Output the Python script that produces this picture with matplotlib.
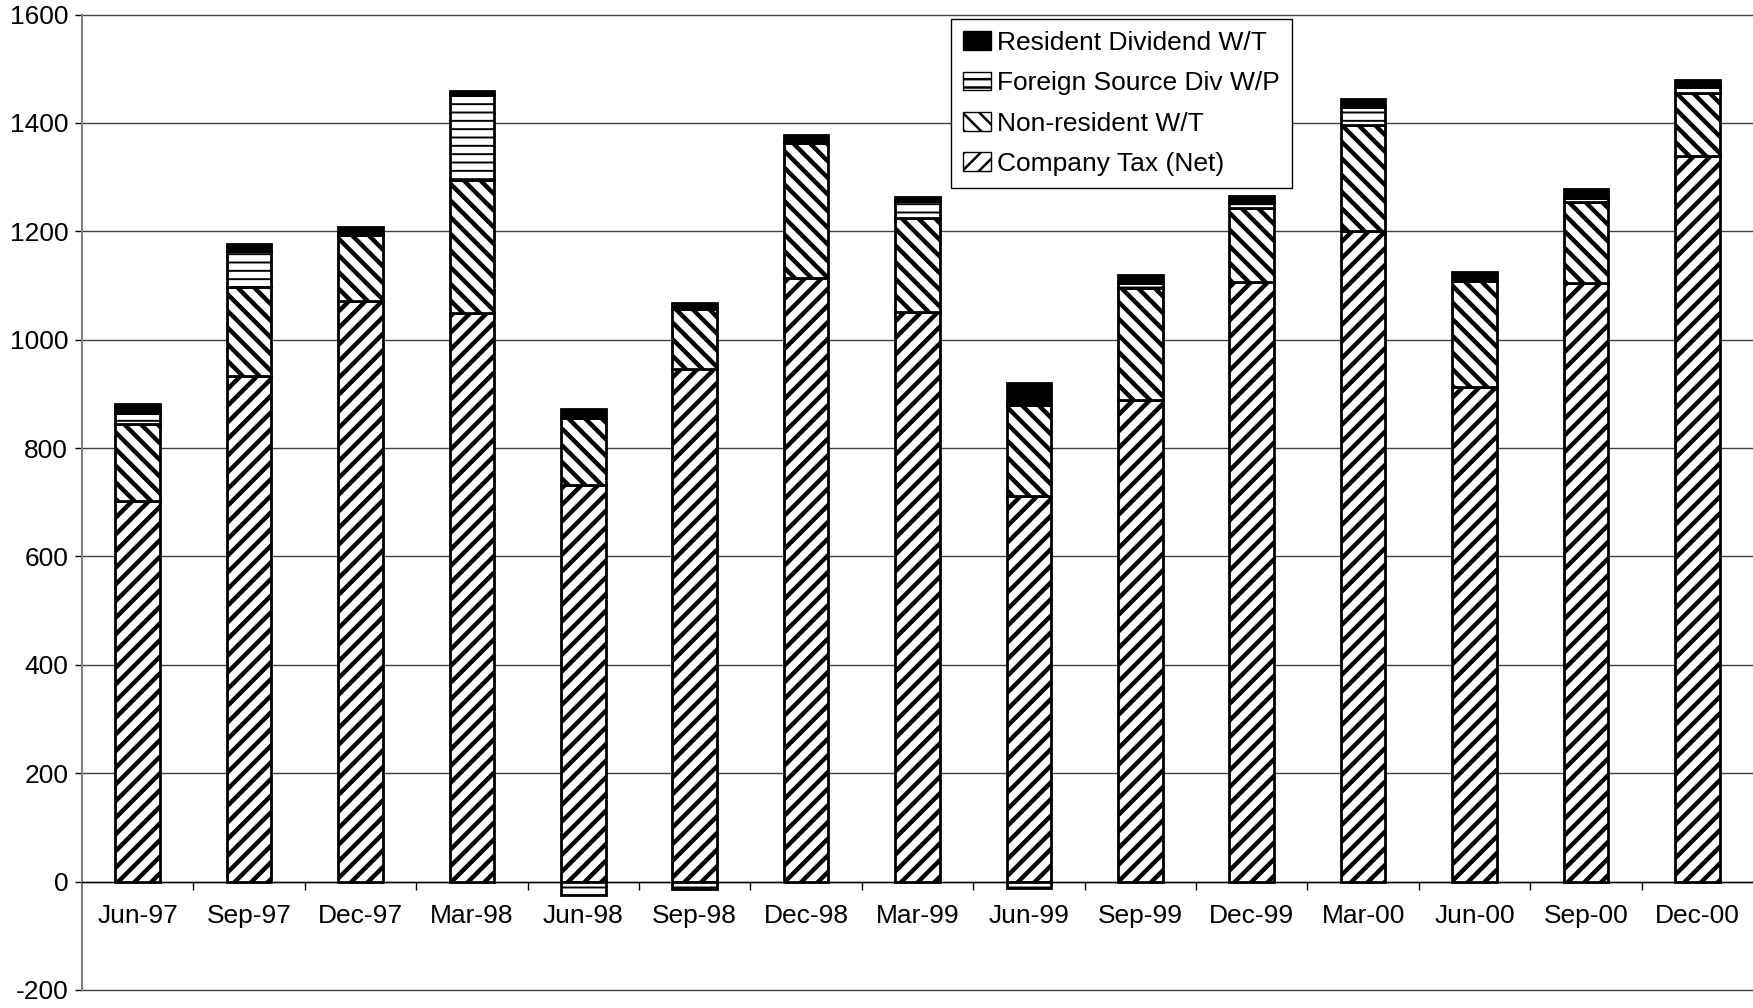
import numpy as np
import matplotlib
matplotlib.use('Agg')
import matplotlib.pyplot as plt
import matplotlib.patches as mpatches
from matplotlib.legend_handler import HandlerPatch

# quarterly values
quarters = ['Jun-97', 'Sep-97', 'Dec-97', 'Mar-98', 'Jun-98', 'Sep-98', 'Dec-98', 'Mar-99',
            'Jun-99', 'Sep-99', 'Dec-99', 'Mar-00', 'Jun-00', 'Sep-00', 'Dec-00']
company_tax = [702, 933, 1072, 1050, 731, 946, 1113, 1051, 711, 889, 1107, 1201, 912, 1104, 1338]
non_resident = [142, 164, 121, 244, 124, 111, 250, 174, 169, 207, 136, 195, 196, 150, 118]
foreign_div = [20, 66, 2, 158, -25, -13, 0, 30, -12, 8, 10, 34, 2, 8, 10]
resident_div = [18, 14, 13, 6, 17, 11, 14, 9, 40, 15, 12, 14, 14, 16, 13]

plt.rcParams['font.family'] = ['Liberation Sans', 'DejaVu Sans']
plt.rcParams['font.size'] = 19
plt.rcParams['axes.unicode_minus'] = False
plt.rcParams['hatch.linewidth'] = 3.2

fig = plt.figure(figsize=(17.53, 10.08), dpi=100)
ax = fig.add_axes([0.0468, 0.0179, 0.9532, 0.9677])

x = np.arange(len(quarters))
w = 0.40
edge = dict(edgecolor='black', linewidth=2.0)

comp = np.array(company_tax, dtype=float)
nonr = np.array(non_resident, dtype=float)
fore = np.array(foreign_div, dtype=float)
resi = np.array(resident_div, dtype=float)

# Excel style stacking: negatives hang below zero
bot_non = comp
bot_for = np.where(fore >= 0, comp + nonr, 0)
bot_res = comp + nonr + np.clip(fore, 0, None)

b_com = ax.bar(x, comp, w, color='white', hatch='//', zorder=3, **edge)
b_non = ax.bar(x, nonr, w, bottom=bot_non, color='white', hatch='\\\\', zorder=3, **edge)
with plt.rc_context({'hatch.linewidth': 1.4}):
    b_for = ax.bar(x, fore, w, bottom=bot_for, color='white', hatch='--', zorder=3, **edge)
for p in b_for:
    if hasattr(p, 'set_hatch_linewidth'):
        p.set_hatch_linewidth(1.4)
b_res = ax.bar(x, resi, w, bottom=bot_res, color='black', zorder=3, **edge)

ax.set_xlim(-0.5, len(quarters) - 0.5)
ax.set_ylim(-200, 1600)
ax.set_yticks(np.arange(-200, 1601, 200))
ax.yaxis.grid(True, color='#404040', linewidth=1.0, zorder=0)
for gl in ax.get_ygridlines():
    gl.set_clip_on(False)
ax.set_axisbelow(True)

ax.set_xticks(x)
ax.set_xticklabels(quarters)
ax.set_xticks(np.arange(0.5, len(quarters) - 1, 1.0), minor=True)
ax.tick_params(axis='x', which='major', length=0, pad=16)
ax.tick_params(axis='x', which='minor', length=6, width=1, direction='out')
ax.tick_params(axis='y', length=5, width=1, direction='out', pad=5)

ax.spines['top'].set_visible(False)
ax.spines['right'].set_visible(False)
ax.spines['bottom'].set_position(('data', 0))
ax.spines['bottom'].set_linewidth(1.0)
ax.spines['left'].set_color('#808080')
ax.spines['left'].set_linewidth(1.5)


def small_square(legend, orig_handle, xdescent, ydescent, width, height, fontsize):
    s = 0.6 * fontsize
    return mpatches.Rectangle((-xdescent + width - s, -ydescent + (height - s) / 2), s, s)


leg = ax.legend([b_res, b_for, b_non, b_com],
                ['Resident Dividend W/T', 'Foreign Source Div W/P', 'Non-resident W/T', 'Company Tax (Net)'],
                loc='upper left', bbox_to_anchor=(951 / 1753, 1 - 19 / 1008),
                bbox_transform=fig.transFigure, borderaxespad=0,
                frameon=True, fancybox=False, framealpha=1, edgecolor='black',
                borderpad=0.45, labelspacing=0.62, handlelength=1.06, handletextpad=0.23,
                handler_map={mpatches.Rectangle: HandlerPatch(patch_func=small_square)})
leg.get_frame().set_linewidth(1.0)
for h in leg.legend_handles:
    h.set_linewidth(1.0)
    if hasattr(h, 'set_hatch_linewidth'):
        h.set_hatch_linewidth(1.8)

fig.savefig('out.png', dpi=100)
